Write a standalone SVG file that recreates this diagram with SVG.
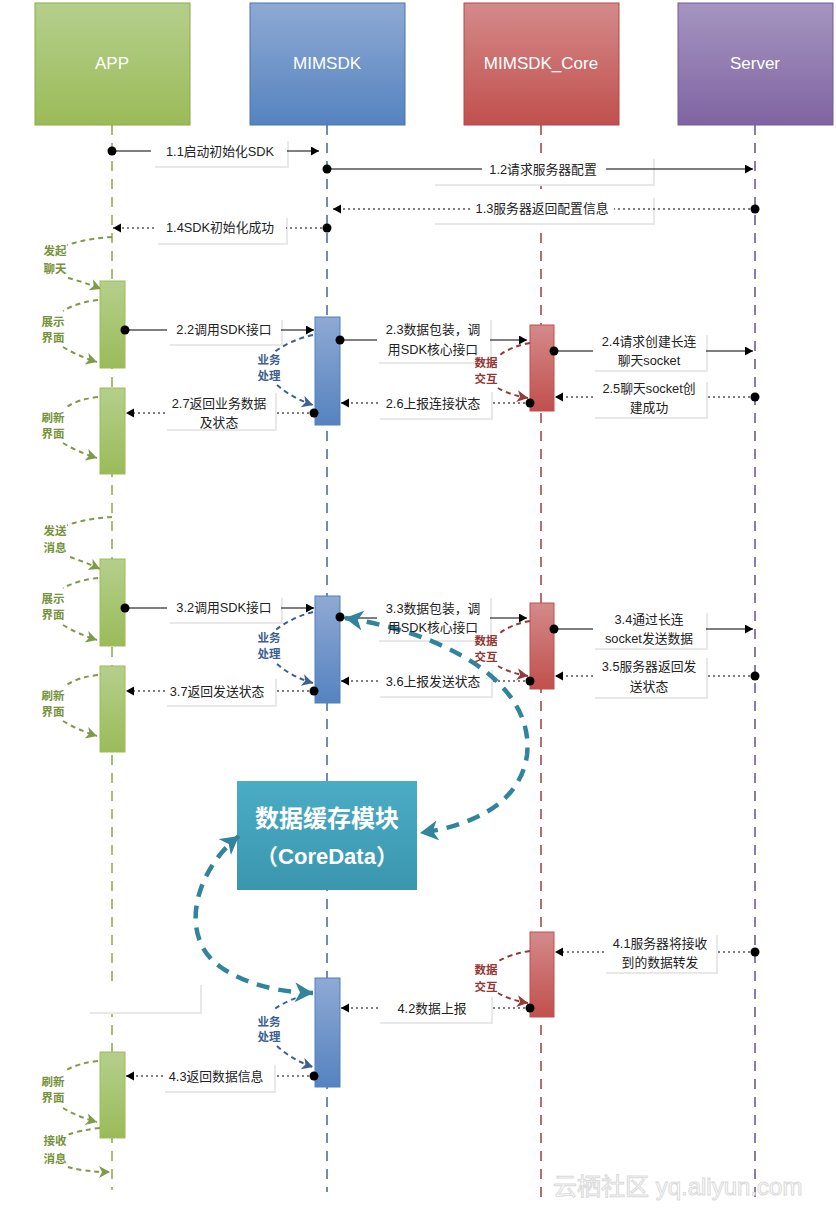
<svg xmlns="http://www.w3.org/2000/svg" width="836" height="1209" viewBox="0 0 836 1209">
<style>
.hdr{font-family:"Liberation Sans","Noto Sans CJK SC",sans-serif;font-size:17px;fill:#fff;text-anchor:middle}
.lbl{font-family:"Liberation Sans","Noto Sans CJK SC",sans-serif;font-size:12.8px;fill:#222;text-anchor:middle}
.lp{font-family:"Liberation Sans","Noto Sans CJK SC",sans-serif;font-size:11.5px;font-weight:bold;text-anchor:middle}
.g{fill:#76923c}.b{fill:#3d5f92}.r{fill:#943634}
.box{fill:#fff}
.sh{fill:#e8e8e8}
.sol{stroke:#000;stroke-width:1.2;fill:none}
.dot{stroke:#000;stroke-width:1.2;fill:none;stroke-dasharray:2 3}
.ll{stroke-width:1.6;stroke-dasharray:10 8;fill:none}
.lg{stroke:#7f9a48;stroke-width:2;stroke-dasharray:5 4;fill:none}
.lb{stroke:#3d5f92;stroke-width:2;stroke-dasharray:5 4;fill:none}
.lr{stroke:#953a3a;stroke-width:2;stroke-dasharray:5 4;fill:none}
.teal{stroke:#31849b;stroke-width:4.5;stroke-dasharray:13 9;fill:none}
.ep{fill:#000}
</style>
<defs>
<marker id="ab" markerUnits="userSpaceOnUse" markerWidth="10" markerHeight="10" refX="8" refY="4.5" orient="auto"><path d="M0,0 L8,4.5 L0,9 z" fill="#000"/></marker>
<marker id="ag" markerUnits="userSpaceOnUse" markerWidth="14" markerHeight="14" refX="11" refY="6" orient="auto"><path d="M0,0 L11,6 L0,12 L3,6 z" fill="#7f9a48"/></marker>
<marker id="abl" markerUnits="userSpaceOnUse" markerWidth="14" markerHeight="14" refX="11" refY="6" orient="auto"><path d="M0,0 L11,6 L0,12 L3,6 z" fill="#3d5f92"/></marker>
<marker id="ar" markerUnits="userSpaceOnUse" markerWidth="14" markerHeight="14" refX="11" refY="6" orient="auto"><path d="M0,0 L11,6 L0,12 L3,6 z" fill="#953a3a"/></marker>
<marker id="at" markerUnits="userSpaceOnUse" markerWidth="26" markerHeight="26" refX="18" refY="10" orient="auto-start-reverse"><path d="M0,0 L18,10 L0,20 L5,10 z" fill="#31849b"/></marker>
<linearGradient id="gG" x1="0" y1="0" x2="0" y2="1"><stop offset="0" stop-color="#b5cf8c"/><stop offset="1" stop-color="#9bbb59"/></linearGradient>
<linearGradient id="gB" x1="0" y1="0" x2="0" y2="1"><stop offset="0" stop-color="#8fa9d3"/><stop offset="1" stop-color="#5583c0"/></linearGradient>
<linearGradient id="gR" x1="0" y1="0" x2="0" y2="1"><stop offset="0" stop-color="#d48a8a"/><stop offset="1" stop-color="#c0504d"/></linearGradient>
<linearGradient id="gP" x1="0" y1="0" x2="0" y2="1"><stop offset="0" stop-color="#a595c0"/><stop offset="1" stop-color="#8064a2"/></linearGradient>
<linearGradient id="gT" x1="0" y1="0" x2="0" y2="1"><stop offset="0" stop-color="#4bacc6"/><stop offset="1" stop-color="#3a96ae"/></linearGradient>
</defs>
<rect width="836" height="1209" fill="#fff"/>

<g id="lifelines">
<line class="ll" x1="112" y1="125" x2="112" y2="1190" stroke="#93ad5b"/>
<line class="ll" x1="327" y1="125" x2="327" y2="1192" stroke="#4f6fa0"/>
<line class="ll" x1="541" y1="125" x2="541" y2="1197" stroke="#a64a4a"/>
<line class="ll" x1="755" y1="125" x2="755" y2="1197" stroke="#6f5a9a"/>
</g>

<g id="app"><rect x="35" y="3" width="155" height="122" fill="url(#gG)" stroke="#8aab4a"/><text class="hdr" x="112" y="69">APP</text></g>
<g id="mimsdk"><rect x="250" y="3" width="155" height="122" fill="url(#gB)" stroke="#4a74aa"/><text class="hdr" x="327" y="69">MIMSDK</text></g>
<g id="mimsdk_core"><rect x="464" y="3" width="155" height="122" fill="url(#gR)" stroke="#b0494a"/><text class="hdr" x="541" y="69">MIMSDK_Core</text></g>
<g id="server"><rect x="678" y="3" width="155" height="122" fill="url(#gP)" stroke="#735a98"/><text class="hdr" x="755" y="69">Server</text></g>

<g id="activations">
<rect id="app_act1" x="100" y="281" width="25" height="87" fill="url(#gG)" stroke="#9bbb59"/>
<rect id="app_act2" x="100" y="388" width="25" height="86" fill="url(#gG)" stroke="#9bbb59"/>
<rect id="app_act3" x="100" y="559" width="25" height="87" fill="url(#gG)" stroke="#9bbb59"/>
<rect id="app_act4" x="100" y="666" width="25" height="86" fill="url(#gG)" stroke="#9bbb59"/>
<rect id="app_act5" x="100" y="1052" width="25" height="86" fill="url(#gG)" stroke="#9bbb59"/>
<rect id="sdk_act1" x="315" y="317" width="25" height="108" fill="url(#gB)" stroke="#4f81bd"/>
<rect id="sdk_act2" x="315" y="596" width="25" height="107" fill="url(#gB)" stroke="#4f81bd"/>
<rect id="sdk_act3" x="315" y="978" width="25" height="109" fill="url(#gB)" stroke="#4f81bd"/>
<rect id="core_act1" x="530" y="325" width="24" height="86" fill="url(#gR)" stroke="#c0504d"/>
<rect id="core_act2" x="530" y="603" width="24" height="86" fill="url(#gR)" stroke="#c0504d"/>
<rect id="core_act3" x="530" y="932" width="24" height="85" fill="url(#gR)" stroke="#c0504d"/>
</g>

<g id="coredata">
<rect x="237" y="781" width="180" height="109" fill="url(#gT)"/>
<text x="327" y="827" font-family="Liberation Sans,Noto Sans CJK SC,sans-serif" font-size="24" font-weight="bold" fill="#fff" text-anchor="middle">数据缓存模块</text>
<text x="327" y="864" font-family="Liberation Sans,Noto Sans CJK SC,sans-serif" font-size="22" font-weight="bold" fill="#fff" text-anchor="middle">（CoreData）</text>
</g>

<g id="label-boxes">
<rect class="sh" x="155" y="141" width="134" height="27"/><rect class="box" x="153" y="139" width="134" height="27"/>
<rect class="sh" x="435" y="159" width="220" height="27"/><rect class="box" x="433" y="157" width="220" height="27"/>
<rect class="sh" x="435" y="198" width="220" height="27"/><rect class="box" x="433" y="196" width="220" height="27"/>
<rect class="sh" x="158" y="218" width="130" height="27"/><rect class="box" x="156" y="216" width="130" height="27"/>

<rect class="sh" x="170" y="320" width="113" height="26"/><rect class="box" x="168" y="318" width="113" height="26"/>
<rect class="sh" x="379" y="320" width="113" height="44"/><rect class="box" x="377" y="318" width="113" height="44"/>
<rect class="sh" x="595" y="335" width="113" height="37"/><rect class="box" x="593" y="333" width="113" height="37"/>
<rect class="sh" x="595" y="382" width="113" height="37"/><rect class="box" x="593" y="380" width="113" height="37"/>
<rect class="sh" x="380" y="392" width="113" height="28"/><rect class="box" x="378" y="390" width="113" height="28"/>
<rect class="sh" x="167" y="393" width="110" height="38"/><rect class="box" x="165" y="391" width="110" height="38"/>

<rect class="sh" x="170" y="598" width="113" height="26"/><rect class="box" x="168" y="596" width="113" height="26"/>
<rect class="sh" x="379" y="598" width="113" height="44"/><rect class="box" x="377" y="596" width="113" height="44"/>
<rect class="sh" x="595" y="613" width="113" height="37"/><rect class="box" x="593" y="611" width="113" height="37"/>
<rect class="sh" x="595" y="658" width="113" height="41"/><rect class="box" x="593" y="656" width="113" height="41"/>
<rect class="sh" x="380" y="670" width="113" height="28"/><rect class="box" x="378" y="668" width="113" height="28"/>
<rect class="sh" x="167" y="679" width="110" height="28"/><rect class="box" x="165" y="677" width="110" height="28"/>

<rect class="sh" x="90" y="985" width="112" height="29"/><rect class="box" x="88" y="983" width="112" height="29"/>
<rect class="sh" x="606" y="935" width="112" height="39"/><rect class="box" x="604" y="933" width="112" height="39"/>
<rect class="sh" x="380" y="997" width="113" height="27"/><rect class="box" x="378" y="995" width="113" height="27"/>
<rect class="sh" x="165" y="1065" width="111" height="28"/><rect class="box" x="163" y="1063" width="111" height="28"/>
</g>

<g id="connectors">
<path class="sol" d="M112 151 H151 M287 151 H319" marker-end="url(#ab)"/>
<circle class="ep" cx="112" cy="151" r="4.5"/>
<path class="sol" d="M327 169 H482 M606 169 H753" marker-end="url(#ab)"/>
<circle class="ep" cx="327" cy="169" r="4.5"/>
<path class="dot" d="M755 209 H614 M470 209 H333" marker-end="url(#ab)"/>
<circle class="ep" cx="755" cy="209" r="4.5"/>
<path class="dot" d="M327 228 H286 M154 228 H113" marker-end="url(#ab)"/>
<circle class="ep" cx="327" cy="228" r="4.5"/>

<path class="sol" d="M125 330 H167 M281 330 H314" marker-end="url(#ab)"/>
<circle class="ep" cx="125" cy="330" r="4.5"/>
<path class="sol" d="M340 340 H377 M490 340 H527" marker-end="url(#ab)"/>
<circle class="ep" cx="340" cy="340" r="4.5"/>
<path class="sol" d="M554 351 H593 M706 351 H753" marker-end="url(#ab)"/>
<circle class="ep" cx="554" cy="351" r="4.5"/>
<path class="dot" d="M755 397 H706 M593 397 H555" marker-end="url(#ab)"/>
<circle class="ep" cx="755" cy="397" r="4.5"/>
<path class="dot" d="M530 403 H491 M378 403 H341" marker-end="url(#ab)"/>
<circle class="ep" cx="530" cy="403" r="4.5"/>
<path class="dot" d="M314 413 H275 M165 413 H126" marker-end="url(#ab)"/>
<circle class="ep" cx="314" cy="413" r="4.5"/>

<path class="sol" d="M125 608 H167 M281 608 H314" marker-end="url(#ab)"/>
<circle class="ep" cx="125" cy="608" r="4.5"/>
<path class="sol" d="M340 618 H377 M490 618 H527" marker-end="url(#ab)"/>
<circle class="ep" cx="340" cy="617" r="4.5"/>
<path class="sol" d="M554 629 H593 M706 629 H753" marker-end="url(#ab)"/>
<circle class="ep" cx="554" cy="629" r="4.5"/>
<path class="dot" d="M755 676 H706 M593 676 H555" marker-end="url(#ab)"/>
<circle class="ep" cx="755" cy="676" r="4.5"/>
<path class="dot" d="M530 681 H491 M378 681 H341" marker-end="url(#ab)"/>
<circle class="ep" cx="530" cy="681" r="4.5"/>
<path class="dot" d="M314 691 H275 M165 691 H126" marker-end="url(#ab)"/>
<circle class="ep" cx="314" cy="691" r="4.5"/>

<path class="dot" d="M755 952 H716 M604 952 H555" marker-end="url(#ab)"/>
<circle class="ep" cx="755" cy="952" r="4.5"/>
<path class="dot" d="M530 1008 H491 M378 1008 H341" marker-end="url(#ab)"/>
<circle class="ep" cx="530" cy="1008" r="4.5"/>
<path class="dot" d="M314 1076 H274 M163 1076 H126" marker-end="url(#ab)"/>
<circle class="ep" cx="314" cy="1076" r="4.5"/>

<path class="lg" d="M112 237 Q90 238 67 245"/><path class="lg" d="M68 278 Q84 282 101 289" marker-end="url(#ag)"/>
<path class="lg" d="M98 300 Q78 302 63 311"/><path class="lg" d="M63 347 Q78 356 97 362" marker-end="url(#ag)"/>
<path class="lg" d="M98 397 Q78 399 65 408"/><path class="lg" d="M63 443 Q78 452 97 458" marker-end="url(#ag)"/>
<path class="lb" d="M313 335 Q290 340 273 353"/><path class="lb" d="M277 385 Q292 398 313 405" marker-end="url(#abl)"/>
<path class="lr" d="M530 343 Q512 346 500 355"/><path class="lr" d="M498 388 Q510 395 528 398" marker-end="url(#ar)"/>

<path class="lg" d="M112 517 Q90 518 67 525"/><path class="lg" d="M70 557 Q85 562 100 569" marker-end="url(#ag)"/>
<path class="lg" d="M98 578 Q78 580 63 588"/><path class="lg" d="M63 625 Q78 634 97 640" marker-end="url(#ag)"/>
<path class="lg" d="M98 675 Q78 677 65 686"/><path class="lg" d="M63 721 Q78 730 97 736" marker-end="url(#ag)"/>
<path class="lb" d="M313 612 Q290 618 273 632"/><path class="lb" d="M277 664 Q292 677 313 683" marker-end="url(#abl)"/>
<path class="lr" d="M530 621 Q512 624 500 633"/><path class="lr" d="M498 666 Q510 673 528 676" marker-end="url(#ar)"/>

<path class="lr" d="M530 951 Q510 954 497 962"/><path class="lr" d="M498 993 Q510 1000 528 1003" marker-end="url(#ar)"/>
<path class="lb" d="M313 993 Q290 998 273 1010"/><path class="lb" d="M277 1046 Q292 1060 313 1067" marker-end="url(#abl)"/>
<path class="lg" d="M98 1061 Q78 1063 65 1071"/><path class="lg" d="M63 1108 Q78 1117 97 1122" marker-end="url(#ag)"/>
<path class="lg" d="M100 1128 Q80 1130 67 1135"/><path class="lg" d="M68 1167 Q85 1172 110 1172" marker-end="url(#ag)"/>

<path class="teal" d="M345 618 C440 632 535 680 527 755 C520 805 470 826 420 833" marker-start="url(#at)" marker-end="url(#at)"/>
<path class="teal" d="M313 993 C285 992 255 988 225 970 C175 940 195 870 239 836" marker-start="url(#at)" marker-end="url(#at)"/>
</g>

<g id="labels">
<text class="lbl" x="220" y="156">1.1启动初始化SDK</text>
<text class="lbl" x="543" y="174">1.2请求服务器配置</text>
<text class="lbl" x="542" y="213">1.3服务器返回配置信息</text>
<text class="lbl" x="220" y="232">1.4SDK初始化成功</text>

<text class="lbl" x="224" y="334">2.2调用SDK接口</text>
<text class="lbl" x="433" y="334">2.3数据包装，调</text>
<text class="lbl" x="433" y="354">用SDK核心接口</text>
<text class="lbl" x="649" y="346">2.4请求创建长连</text>
<text class="lbl" x="649" y="365">聊天socket</text>
<text class="lbl" x="649" y="393">2.5聊天socket创</text>
<text class="lbl" x="649" y="412">建成功</text>
<text class="lbl" x="433" y="408">2.6上报连接状态</text>
<text class="lbl" x="219" y="408">2.7返回业务数据</text>
<text class="lbl" x="219" y="427">及状态</text>

<text class="lbl" x="224" y="612">3.2调用SDK接口</text>
<text class="lbl" x="433" y="613">3.3数据包装，调</text>
<text class="lbl" x="433" y="632">用SDK核心接口</text>
<text class="lbl" x="649" y="624">3.4通过长连</text>
<text class="lbl" x="649" y="643">socket发送数据</text>
<text class="lbl" x="649" y="671">3.5服务器返回发</text>
<text class="lbl" x="649" y="691">送状态</text>
<text class="lbl" x="433" y="686">3.6上报发送状态</text>
<text class="lbl" x="217" y="696">3.7返回发送状态</text>

<text class="lbl" x="660" y="948">4.1服务器将接收</text>
<text class="lbl" x="660" y="967">到的数据转发</text>
<text class="lbl" x="432" y="1013">4.2数据上报</text>
<text class="lbl" x="216" y="1081">4.3返回数据信息</text>

<text class="lp g" x="55" y="255">发起</text><text class="lp g" x="55" y="273">聊天</text>
<text class="lp g" x="53" y="326">展示</text><text class="lp g" x="53" y="342">界面</text>
<text class="lp g" x="53" y="422">刷新</text><text class="lp g" x="53" y="438">界面</text>
<text class="lp b" x="269" y="364">业务</text><text class="lp b" x="269" y="380">处理</text>
<text class="lp r" x="486" y="367">数据</text><text class="lp r" x="486" y="383">交互</text>

<text class="lp g" x="55" y="535">发送</text><text class="lp g" x="55" y="552">消息</text>
<text class="lp g" x="53" y="603">展示</text><text class="lp g" x="53" y="619">界面</text>
<text class="lp g" x="53" y="700">刷新</text><text class="lp g" x="53" y="716">界面</text>
<text class="lp b" x="269" y="642">业务</text><text class="lp b" x="269" y="658">处理</text>
<text class="lp r" x="486" y="645">数据</text><text class="lp r" x="486" y="661">交互</text>

<text class="lp r" x="486" y="974">数据</text><text class="lp r" x="486" y="991">交互</text>
<text class="lp b" x="269" y="1026">业务</text><text class="lp b" x="269" y="1041">处理</text>
<text class="lp g" x="53" y="1086">刷新</text><text class="lp g" x="53" y="1102">界面</text>
<text class="lp g" x="55" y="1145">接收</text><text class="lp g" x="55" y="1163">消息</text>
</g>

<text x="553" y="1195" font-family="Liberation Sans,Noto Sans CJK SC,sans-serif" font-size="24" fill="#fff" stroke="#dadada" stroke-width="1">云栖社区 yq.aliyun.com</text>
</svg>
